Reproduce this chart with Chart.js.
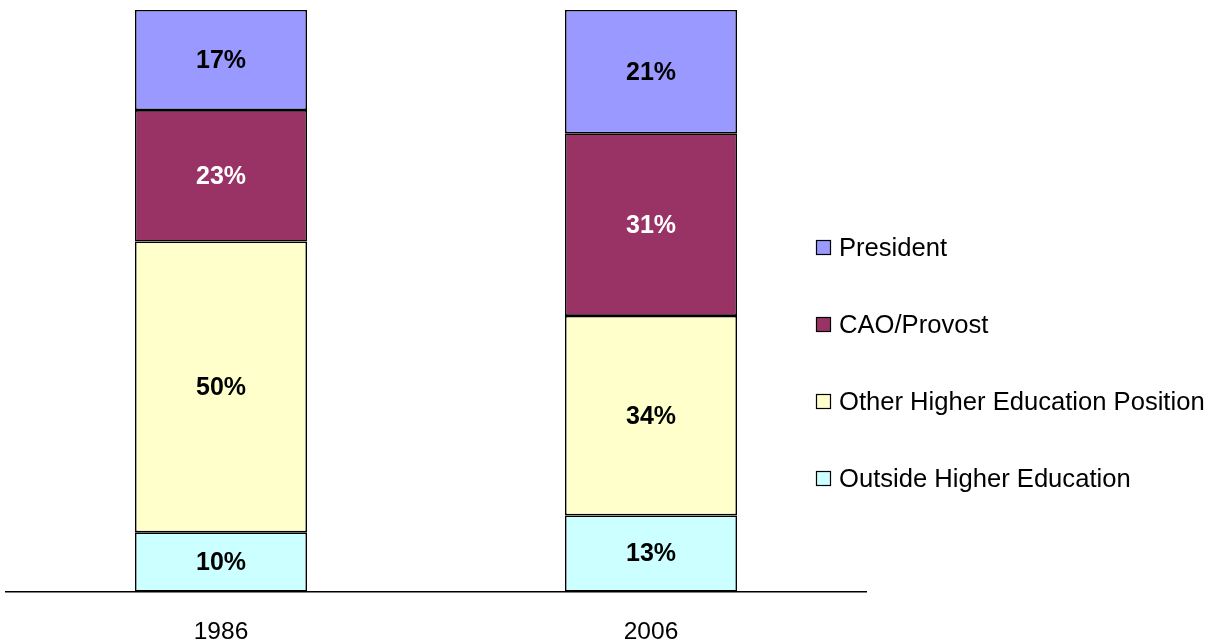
<!DOCTYPE html>
<html>
<head>
<meta charset="utf-8">
<script src="https://cdn.jsdelivr.net/npm/chart.js@4/dist/chart.umd.min.js"></script>
<style>
html,body{margin:0;padding:0;background:#fff;}
#wrap{width:1214px;height:641px;position:relative;}
</style>
</head>
<body>
<div id="wrap"><canvas id="c"></canvas></div>
<script>
const categories = ['1986', '2006'];
const seriesNames = ['Outside Higher Education', 'Other Higher Education Position', 'CAO/Provost', 'President'];
const outsideHE = [10.2, 13.1];
const otherHE = [50.0, 34.3];
const caoProvost = [22.6, 31.4];
const president = [17.2, 21.2];
const colors = ['#CCFFFF', '#FFFFCC', '#993366', '#9999FF'];
const labelColors = ['#000000', '#000000', '#FFFFFF', '#000000'];

const FONT = '"Liberation Sans", Arial, Helvetica, sans-serif';
const seriesValues = [outsideHE, otherHE, caoProvost, president];

const datasets = seriesValues.map((vals, i) => ({
  label: seriesNames[i],
  data: vals,
  backgroundColor: colors[i],
  borderColor: '#000000',
  borderWidth: 1.6,
  borderSkipped: false,
  barPercentage: 0.4,
  categoryPercentage: 1.0
}));

const barLabels = {
  id: 'barLabels',
  afterDatasetsDraw(chart) {
    const ctx = chart.ctx;
    ctx.save();
    ctx.font = 'bold 25px ' + FONT;
    ctx.textAlign = 'center';
    ctx.textBaseline = 'middle';
    chart.data.datasets.forEach((ds, di) => {
      const meta = chart.getDatasetMeta(di);
      meta.data.forEach((bar, j) => {
        const cy = (bar.y + bar.base) / 2;
        ctx.fillStyle = labelColors[di];
        ctx.fillText(Math.round(ds.data[j]) + '%', bar.x, cy + 1);
      });
    });
    ctx.restore();
  }
};

const sideLegend = {
  id: 'sideLegend',
  afterDraw(chart) {
    const ctx = chart.ctx;
    const ca = chart.chartArea;
    ctx.save();
    ctx.font = '25.6px ' + FONT;
    ctx.textBaseline = 'middle';
    ctx.textAlign = 'left';
    const x0 = ca.right - 50;
    const yStart = 247.5;
    const step = 77;
    const n = chart.data.datasets.length;
    for (let k = 0; k < n; k++) {
      const di = n - 1 - k;
      const ds = chart.data.datasets[di];
      const y = yStart + k * step;
      ctx.fillStyle = ds.backgroundColor;
      ctx.fillRect(x0, y - 7.5, 15, 15);
      ctx.strokeStyle = '#000000';
      ctx.lineWidth = 1.2;
      ctx.strokeRect(x0 + 0.5, y - 7, 14, 14);
      ctx.fillStyle = '#000000';
      ctx.fillText(ds.label, x0 + 23, y + 1);
    }
    ctx.restore();
  }
};

new Chart(document.getElementById('c'), {
  type: 'bar',
  data: { labels: categories, datasets: datasets },
  options: {
    responsive: true,
    maintainAspectRatio: false,
    animation: false,
    layout: { padding: { left: 6, right: 348, top: 10, bottom: -32 } },
    plugins: {
      legend: { display: false },
      tooltip: { enabled: false }
    },
    scales: {
      x: {
        stacked: true,
        grid: { display: false, drawTicks: false },
        border: { display: true, color: '#000000', width: 1.5 },
        ticks: { color: '#000000', font: { family: FONT, size: 24.5 }, padding: 26 }
      },
      y: {
        stacked: true,
        display: false,
        min: 0,
        max: 100
      }
    }
  },
  plugins: [barLabels, sideLegend]
});
</script>
</body>
</html>
